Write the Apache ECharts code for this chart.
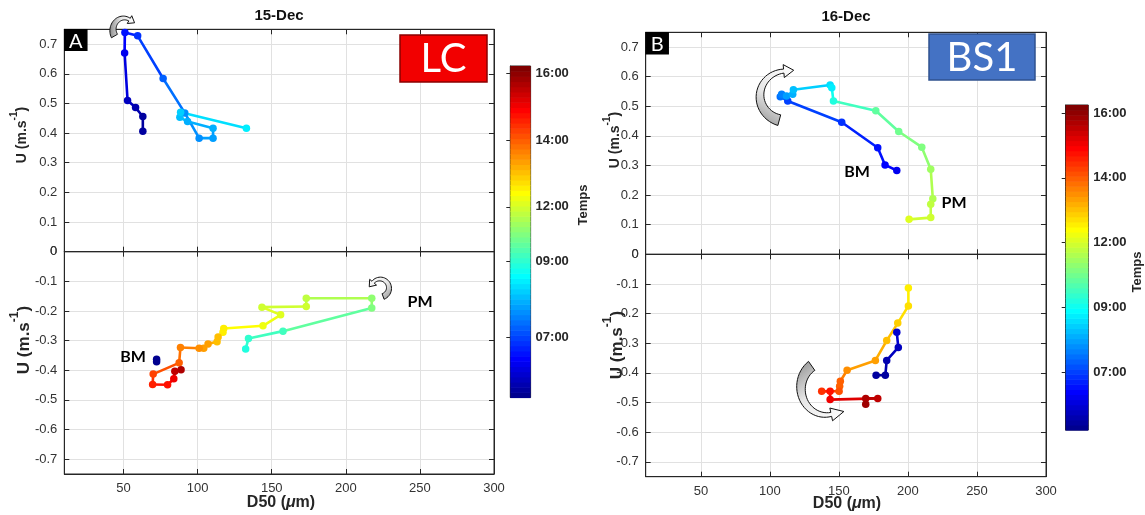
<!DOCTYPE html>
<html><head><meta charset="utf-8">
<script src="https://cdn.jsdelivr.net/npm/echarts@6/dist/echarts.min.js"></script>
<style>html,body{margin:0;padding:0;background:#fff}#c{width:1145px;height:515px}</style>
</head><body><div id="c"></div>
<script>
// ================= DATA =================
const xTicks = [50, 100, 150, 200, 250, 300];
const yTicksTop = [0, 0.1, 0.2, 0.3, 0.4, 0.5, 0.6, 0.7];
const yTicksBottom = [-0.7, -0.6, -0.5, -0.4, -0.3, -0.2, -0.1, 0];
const cbTickLabels = ['07:00', '09:00', '12:00', '14:00', '16:00'];
const cbTickValuesA = [8.09, 10.36, 12.0, 14.0, 16.0];
const cbTickValuesB = [8.0, 10.0, 12.0, 14.0, 16.0];
const cbRangeA = [6.30, 16.21];
const cbRangeB = [6.22, 16.25];

// Panel A (15-Dec, LC) - flood (U > 0)
const aTopD50 = [63.0, 63.0, 58.1, 52.7, 50.7, 50.9, 59.5, 76.7, 91.3, 101.0, 110.4, 110.4, 93.2, 88.0, 88.5, 132.9];
const aTopU   = [0.406, 0.456, 0.486, 0.510, 0.670, 0.739, 0.728, 0.584, 0.468, 0.383, 0.383, 0.416, 0.439, 0.453, 0.470, 0.416];
const aTopT   = [6.5, 6.6, 6.7, 6.85, 7.3, 7.6, 7.9, 8.4, 8.8, 8.9, 9.0, 9.1, 9.2, 9.3, 9.4, 9.8];
// Panel A - ebb (U < 0)
const aBotD50 = [132.4, 134.3, 157.6, 217.5, 217.5, 173.3, 173.3, 143.4, 156.0, 144.1, 117.6, 117.1, 113.8, 113.1, 107.0, 104.1, 101.0, 88.4, 87.5, 70.0, 69.6, 79.7, 83.9, 84.6, 88.8];
const aBotU   = [-0.328, -0.293, -0.268, -0.190, -0.157, -0.157, -0.185, -0.187, -0.213, -0.250, -0.259, -0.272, -0.288, -0.304, -0.311, -0.326, -0.326, -0.323, -0.375, -0.413, -0.448, -0.449, -0.429, -0.403, -0.398];
const aBotT   = [10.3, 10.4, 10.6, 11.2, 11.4, 11.8, 11.9, 12.0, 12.1, 12.3, 12.5, 12.6, 13.0, 13.1, 13.3, 13.4, 13.5, 13.7, 14.0, 14.3, 14.6, 14.8, 15.0, 15.5, 15.7];
// Panel A - BM point
const aBmD50 = [72.3, 72.3];
const aBmU   = [-0.363, -0.371];
const aBmT   = [6.4, 6.4];

// Panel B (16-Dec, BS1) - flood
const bTopD50 = [191.9, 183.4, 178.1, 152.0, 112.9, 107.5, 108.5, 112.0, 116.5, 117.0, 143.6, 144.8, 146.0, 176.7, 193.3, 210.0, 216.5, 218.0, 216.5, 216.5, 200.8];
const bTopU   = [0.283, 0.302, 0.360, 0.446, 0.518, 0.532, 0.541, 0.535, 0.541, 0.556, 0.572, 0.563, 0.518, 0.485, 0.415, 0.362, 0.287, 0.188, 0.169, 0.124, 0.118];
const bTopT   = [7.3, 7.4, 7.55, 7.8, 8.1, 8.5, 8.7, 8.9, 9.1, 9.3, 9.6, 9.8, 10.2, 10.8, 11.0, 11.2, 11.5, 11.7, 11.8, 11.9, 12.1];
// Panel B - early ebb (before BM)
const bEarlyD50 = [176.9, 183.6, 184.6, 193.0, 191.9];
const bEarlyU   = [-0.408, -0.408, -0.358, -0.314, -0.263];
const bEarlyT   = [6.4, 6.5, 6.65, 6.8, 6.95];
// Panel B - ebb (afternoon)
const bBotD50 = [200.3, 200.3, 192.6, 184.6, 176.4, 155.9, 151.0, 150.5, 150.1, 137.5, 143.6, 143.6, 178.1, 169.4, 169.4];
const bBotU   = [-0.114, -0.174, -0.232, -0.291, -0.358, -0.391, -0.428, -0.445, -0.462, -0.462, -0.462, -0.490, -0.486, -0.486, -0.506];
const bBotT   = [12.5, 12.7, 12.9, 13.1, 13.3, 13.5, 13.9, 14.0, 14.2, 14.5, 14.7, 15.0, 15.5, 15.7, 15.9];

// ================= HELPERS =================
const FONT = 'Liberation Sans, Arial, Helvetica, sans-serif';
const PPT = 'Lato, Open Sans, sans-serif';
const AX = '#262626';
const GRIDC = '#e1e1e1';

function jetIdx(i) { // MATLAB jet(64)
  const x = (i + 1) / 64;
  const c = v => Math.round(255 * Math.max(0, Math.min(1, v)));
  return 'rgb(' + c(1.5 - Math.abs(4 * x - 3)) + ',' + c(1.5 - Math.abs(4 * x - 2)) + ',' + c(1.5 - Math.abs(4 * x - 1)) + ')';
}
function colorOf(t, range) {
  let i = Math.floor((t - range[0]) / (range[1] - range[0]) * 64);
  i = Math.max(0, Math.min(63, i));
  return jetIdx(i);
}

// grids: 0 A-top, 1 A-bot, 2 B-top, 3 B-bot, 4 cbA, 5 cbB
const grids = [
  { left: 64.3, top: 29.3, width: 429.7, height: 222.4 },
  { left: 64.3, top: 251.7, width: 429.7, height: 222.3 },
  { left: 645.7, top: 32.3, width: 400.3, height: 222.0 },
  { left: 645.7, top: 254.3, width: 400.3, height: 222.4 },
  { left: 510.3, top: 66, width: 20.3, height: 331.5 },
  { left: 1065.7, top: 105, width: 22.6, height: 325 }
].map(g => Object.assign({ show: true, borderColor: AX, borderWidth: 1, backgroundColor: 'transparent' }, g));

const xAxes = [], yAxes = [];
function addPlotAxes(gi, showX, yTicks, yMin, yMax) {
  const tickStyle = { color: AX, width: 1 };
  xAxes.push({
    gridIndex: gi, type: 'value', min: 10, max: 300, position: 'bottom',
    axisLine: { show: true, onZero: false, lineStyle: tickStyle },
    axisTick: { show: true, inside: true, length: 5, customValues: xTicks, lineStyle: tickStyle },
    axisLabel: { show: showX, customValues: xTicks, color: '#333', fontSize: 13, fontFamily: FONT, margin: 8 },
    splitLine: { show: true, lineStyle: { color: GRIDC, width: 1 } }
  });
  xAxes.push({
    gridIndex: gi, type: 'value', min: 10, max: 300, position: 'top',
    axisLine: { show: true, onZero: false, lineStyle: tickStyle },
    axisTick: { show: true, inside: true, length: 5, customValues: xTicks, lineStyle: tickStyle },
    axisLabel: { show: false }, splitLine: { show: false }
  });
  yAxes.push({
    gridIndex: gi, type: 'value', min: yMin, max: yMax, position: 'left',
    axisLine: { show: true, onZero: false, lineStyle: tickStyle },
    axisTick: { show: true, inside: true, length: 5, customValues: yTicks, lineStyle: tickStyle },
    axisLabel: { show: true, customValues: yTicks, color: '#333', fontSize: 13, fontFamily: FONT, margin: 7,
      formatter: v => (Math.abs(v) < 1e-9 ? '0' : String(Math.round(v * 10) / 10)) },
    splitLine: { show: true, lineStyle: { color: GRIDC, width: 1 } }
  });
  yAxes.push({
    gridIndex: gi, type: 'value', min: yMin, max: yMax, position: 'right',
    axisLine: { show: true, onZero: false, lineStyle: tickStyle },
    axisTick: { show: true, inside: true, length: 5, customValues: yTicks, lineStyle: tickStyle },
    axisLabel: { show: false }, splitLine: { show: false }
  });
}
addPlotAxes(0, false, yTicksTop, 0, 0.75);
addPlotAxes(1, true, yTicksBottom, -0.75, 0);
addPlotAxes(2, false, yTicksTop, 0, 0.75);
addPlotAxes(3, true, yTicksBottom, -0.75, 0);
// axis indices: grid gi -> xAxis 2*gi (bottom), yAxis 2*gi (left)

function addColorbarAxes(gi, range, tickVals) {
  xAxes.push({ gridIndex: gi, type: 'value', min: 0, max: 1, show: false });
  yAxes.push({
    gridIndex: gi, type: 'value', min: range[0], max: range[1], position: 'right',
    axisLine: { show: true, lineStyle: { color: AX } },
    axisTick: { show: true, inside: true, length: 4, customValues: tickVals, lineStyle: { color: AX } },
    axisLabel: { show: true, customValues: tickVals, color: '#262626', fontSize: 13, fontWeight: 'bold', fontFamily: FONT, margin: 5,
      formatter: v => { const k = tickVals.findIndex(tv => Math.abs(tv - v) < 1e-6); return k >= 0 ? cbTickLabels[k] : ''; } },
    splitLine: { show: false }
  });
}
addColorbarAxes(4, cbRangeA, cbTickValuesA); // xAxis 8, yAxis 8
addColorbarAxes(5, cbRangeB, cbTickValuesB); // xAxis 9, yAxis 9

const series = [];
function addPath(gi, xs, ys, ts, range, connect) {
  const pts = xs.map((x, i) => [x, ys[i], ts[i]]);
  if (connect) {
    const segs = [];
    for (let i = 0; i < pts.length - 1; i++) segs.push([pts[i][0], pts[i][1], pts[i + 1][0], pts[i + 1][1], (pts[i][2] + pts[i + 1][2]) / 2]);
    series.push({
      type: 'custom', xAxisIndex: 2 * gi, yAxisIndex: 2 * gi, z: 3, silent: true,
      encode: { x: [0, 2], y: [1, 3] },
      data: segs,
      renderItem: (params, api) => {
        const p0 = api.coord([api.value(0), api.value(1)]);
        const p1 = api.coord([api.value(2), api.value(3)]);
        return { type: 'line', shape: { x1: p0[0], y1: p0[1], x2: p1[0], y2: p1[1] },
          style: { stroke: colorOf(api.value(4), range), lineWidth: 2.6, lineCap: 'round' } };
      }
    });
  }
  series.push({
    type: 'scatter', xAxisIndex: 2 * gi, yAxisIndex: 2 * gi, z: 4, symbol: 'circle', symbolSize: 7.5,
    data: pts, itemStyle: { color: p => colorOf(p.value[2], range), opacity: 1 }
  });
}
addPath(0, aTopD50, aTopU, aTopT, cbRangeA, true);
addPath(1, aBotD50, aBotU, aBotT, cbRangeA, true);
addPath(1, aBmD50, aBmU, aBmT, cbRangeA, false);
addPath(2, bTopD50, bTopU, bTopT, cbRangeB, true);
addPath(3, bEarlyD50, bEarlyU, bEarlyT, cbRangeB, true);
addPath(3, bBotD50, bBotU, bBotT, cbRangeB, true);

function addColorbar(gi, range) {
  const bands = [];
  const dt = (range[1] - range[0]) / 64;
  for (let i = 0; i < 64; i++) bands.push([range[0] + i * dt, range[0] + (i + 1) * dt, i]);
  series.push({
    type: 'custom', xAxisIndex: 2 + gi + 2, yAxisIndex: 2 + gi + 2, silent: true, z: 1,
    data: bands, encode: { y: [0, 1] },
    renderItem: (params, api) => {
      const p0 = api.coord([0, api.value(0)]);
      const p1 = api.coord([1, api.value(1)]);
      return { type: 'rect', shape: { x: p0[0], y: p1[1], width: p1[0] - p0[0], height: p0[1] - p1[1] + 0.6 },
        style: { fill: jetIdx(api.value(2)) } };
    }
  });
}
addColorbar(4, cbRangeA); // axes 8
addColorbar(5, cbRangeB); // axes 9

// ================= ANNOTATIONS =================
function txt(x, y, text, size, opts) {
  return Object.assign({ type: 'text', x, y, z: 100, style: Object.assign({ text, fontSize: size, fontFamily: FONT, fill: '#000', align: 'center', verticalAlign: 'middle' }, opts || {}) });
}
function yTitle(x, y, size) {
  const b = { fontSize: size, fontWeight: 'bold', fontFamily: FONT, fill: '#262626', lineHeight: size * 1.4, verticalAlign: 'bottom' };
  const s = { fontSize: Math.round(size * 0.68), fontWeight: 'bold', fontFamily: FONT, fill: '#262626', lineHeight: size * 1.4, verticalAlign: 'top' };
  return { type: 'text', x, y, rotation: Math.PI / 2, z: 100,
    style: { text: '{b|U (m.s}{s|-1}{b|)}', rich: { b, s }, align: 'center', verticalAlign: 'middle' } };
}
function xTitle(x, y) {
  const b = { fontSize: 16, fontWeight: 'bold', fontFamily: FONT, fill: '#262626' };
  const i = { fontSize: 16, fontWeight: 'bold', fontStyle: 'italic', fontFamily: FONT, fill: '#262626' };
  return { type: 'text', x, y, z: 100, style: { text: '{b|D50 (}{i|μ}{b|m)}', rich: { b, i }, align: 'center', verticalAlign: 'middle' } };
}
function curvedArrow(cx, cy, rx, ry, a0, a1, w0, w1, headLen, headW, grad) {
  const outer = [], inner = [], d = Math.PI / 180, steps = 28;
  for (let k = 0; k <= steps; k++) {
    const s = k / steps, a = (a0 + (a1 - a0) * s) * d, hw = (w0 + (w1 - w0) * s) / 2;
    const px = cx + rx * Math.cos(a), py = cy + ry * Math.sin(a);
    const nx = Math.cos(a), ny = Math.sin(a);
    outer.push([px + nx * hw, py + ny * hw]); inner.push([px - nx * hw, py - ny * hw]);
  }
  const ae = a1 * d, sg = a1 > a0 ? 1 : -1;
  let tx = -rx * Math.sin(ae) * sg, ty = ry * Math.cos(ae) * sg; const L = Math.hypot(tx, ty); tx /= L; ty /= L;
  const ex = cx + rx * Math.cos(ae), ey = cy + ry * Math.sin(ae), nx = Math.cos(ae), ny = Math.sin(ae);
  const head = [[ex + nx * headW / 2, ey + ny * headW / 2], [ex + tx * headLen, ey + ty * headLen], [ex - nx * headW / 2, ey - ny * headW / 2]];
  return { type: 'polygon', z: 100, shape: { points: [...outer, ...head, ...inner.reverse()] },
    style: { fill: { type: 'linear', x: grad[0], y: grad[1], x2: grad[2], y2: grad[3], colorStops: [{ offset: 0, color: '#8c8c8c' }, { offset: 0.45, color: '#e6e6e6' }, { offset: 1, color: '#ffffff' }] }, stroke: '#111', lineWidth: 1 } };
}
function labelBox(x, y, w, h, fill, stroke, text, size) {
  return [
    { type: 'rect', z: 100, shape: { x, y, width: w, height: h }, style: { fill, stroke, lineWidth: 1.5 } },
    { type: 'text', z: 101, x: x + w / 2, y: y + h / 2 + 1, style: { text, fill: '#fff', fontSize: size, fontFamily: PPT, align: 'center', verticalAlign: 'middle' } }
  ];
}

const graphic = [
  txt(279, 16, '15-Dec', 15, { fontWeight: 'bold', fill: '#111' }),
  txt(846, 17, '16-Dec', 15, { fontWeight: 'bold', fill: '#111' }),
  yTitle(19, 135, 14), yTitle(21, 340, 17),
  yTitle(612, 140, 14), yTitle(614, 345, 17),
  xTitle(281, 503), xTitle(847, 504),
  { type: 'text', x: 583, y: 205, rotation: Math.PI / 2, z: 100, style: { text: 'Temps', fontSize: 13, fontWeight: 'bold', fontFamily: FONT, fill: '#262626', align: 'center', verticalAlign: 'middle' } },
  { type: 'text', x: 1137, y: 272, rotation: Math.PI / 2, z: 100, style: { text: 'Temps', fontSize: 13, fontWeight: 'bold', fontFamily: FONT, fill: '#262626', align: 'center', verticalAlign: 'middle' } },
  ...labelBox(64.8, 29.8, 22, 20.5, '#000', '#000', 'A', 20),
  ...labelBox(646.2, 32.8, 22, 21, '#000', '#000', 'B', 20),
  ...labelBox(400, 35, 87, 47, '#f20000', '#8b0000', 'LC', 40),
  ...labelBox(929, 34, 106, 46, '#4472c4', '#2f528f', 'BS1', 40),
  txt(133, 357, 'BM', 16, { fontWeight: 'bold', fontFamily: PPT }),
  txt(420, 302, 'PM', 16, { fontWeight: 'bold', fontFamily: PPT }),
  txt(857, 172, 'BM', 16, { fontWeight: 'bold', fontFamily: PPT }),
  txt(954, 203, 'PM', 16, { fontWeight: 'bold', fontFamily: PPT }),
  curvedArrow(124, 30, 11, 12, 150, 300, 7, 3, 6, 9, [0, 0, 1, 0]),
  curvedArrow(380, 288, 9, 9, 70, -140, 6, 3, 6, 9, [1, 1, 0, 0]),
  curvedArrow(786, 96, 26, 25, 105, 265, 11, 4, 10, 13, [0, 1, 1, 0]),
  curvedArrow(826, 388, 25, 27, 235, 78, 11, 4, 13, 13, [0, 0, 1, 1])
];

const chart = echarts.init(document.getElementById('c'), null, { renderer: 'canvas' });
chart.setOption({
  animation: false,
  backgroundColor: '#fff',
  grid: grids, xAxis: xAxes, yAxis: yAxes, series, graphic
});
</script></body></html>
